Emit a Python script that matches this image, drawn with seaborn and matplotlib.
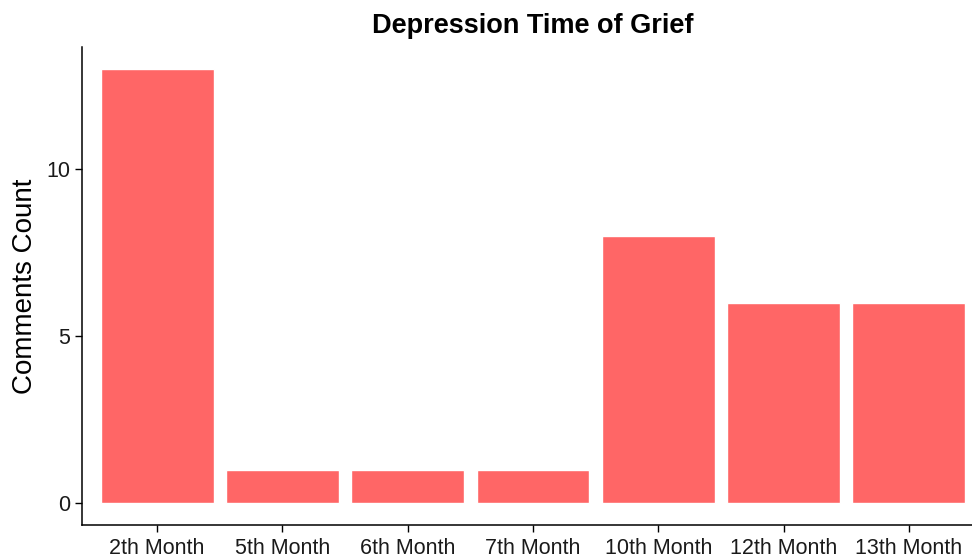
import matplotlib
matplotlib.use("Agg")
import matplotlib.pyplot as plt
import seaborn as sns
import pandas as pd

categories = ["2th Month", "5th Month", "6th Month", "7th Month", "10th Month", "12th Month", "13th Month"]
counts = [13, 1, 1, 1, 8, 6, 6]

df = pd.DataFrame({"month": categories, "count": counts})

sns.set_theme(style="ticks")
plt.rcParams['font.family'] = ['Liberation Sans', 'DejaVu Sans']

fig = plt.figure(figsize=(9.72, 5.6), dpi=100)
ax = fig.add_axes([82/972, 35/560, 902/972, 478/560])
sns.barplot(data=df, x="month", y="count", order=categories, color="#FF6666",
            saturation=1, width=0.9, ax=ax)
ax.set_xlim(-0.6, 6.6)
ax.set_ylim(-0.65, 13.65)
ax.set_yticks([0, 5, 10])
ax.set_xlabel("")
ax.set_ylabel("Comments Count", fontsize=20, color="black", labelpad=6)
ax.set_title("Depression Time of Grief", fontsize=19.5, fontweight="bold", color="black", pad=10)
ax.tick_params(axis="both", labelsize=15.5, labelcolor="#1a1a1a", length=5, width=1, color="black")
ax.tick_params(axis="x", pad=4)
for s in ["top", "right"]:
    ax.spines[s].set_visible(False)
for s in ["left", "bottom"]:
    ax.spines[s].set_color("black")
    ax.spines[s].set_linewidth(1.1)
fig.savefig("out.png", dpi=100)
